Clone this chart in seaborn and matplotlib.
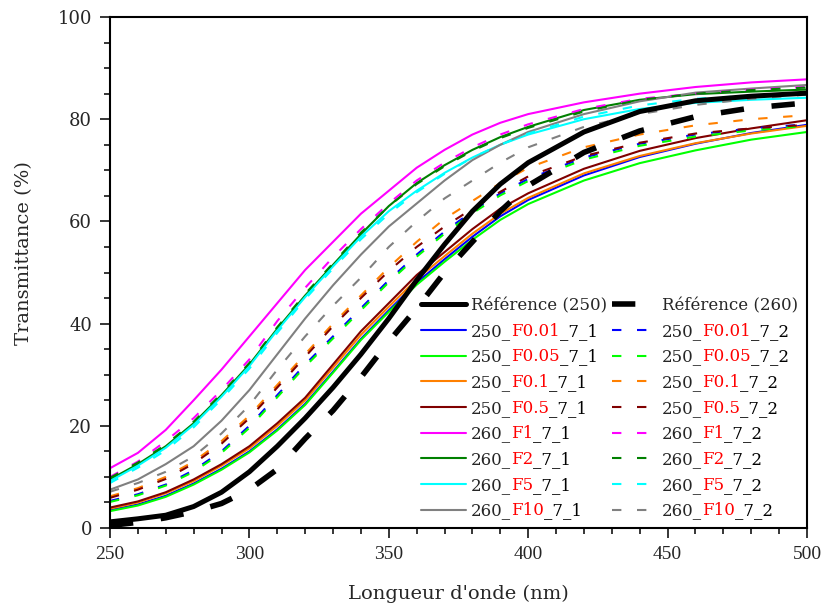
import pandas as pd
import matplotlib
matplotlib.use("Agg")
import matplotlib.pyplot as plt
from matplotlib.ticker import MultipleLocator
import seaborn as sns

# wavelengths (nm)
wl = [250, 260, 270, 280, 290, 300, 310, 320, 330, 340, 350, 360, 370, 380, 390, 400,
      420, 440, 460, 480, 500]

# transmittance (%)
ref_250 = [1.2, 1.8, 2.5, 4.2, 7.0, 11.0, 16.0, 21.5, 27.5, 34.0, 41.0, 48.5, 55.5, 62.0, 67.3, 71.5,
           77.5, 81.5, 83.6, 84.5, 85.1]
ref_260 = [0.5, 1.1, 2.0, 3.2, 4.8, 7.5, 11.5, 17.5, 23.0, 29.5, 36.5, 43.0, 50.0, 56.0, 62.0, 67.0,
           73.5, 77.7, 80.5, 82.2, 83.2]

f001_1 = [3.5, 4.6, 6.3, 8.7, 11.6, 15.0, 19.3, 24.3, 30.6, 37.0, 42.6, 48.0, 52.6, 57.0, 61.0, 64.2,
          69.0, 72.6, 75.2, 77.3, 78.9]
f005_1 = [3.3, 4.4, 6.1, 8.5, 11.4, 14.8, 19.1, 24.1, 30.4, 36.8, 42.3, 47.6, 52.1, 56.4, 60.3, 63.4,
          68.0, 71.4, 73.9, 76.0, 77.5]
f01_1 = [3.8, 5.0, 6.8, 9.2, 12.2, 15.6, 20.0, 25.0, 31.4, 37.8, 43.3, 48.7, 53.2, 57.6, 61.5, 64.6,
         69.4, 72.8, 75.3, 77.2, 78.7]
f05_1 = [4.0, 5.2, 7.0, 9.5, 12.5, 16.0, 20.5, 25.5, 32.0, 38.5, 44.0, 49.5, 54.0, 58.5, 62.5, 65.5,
         70.3, 73.8, 76.3, 78.2, 79.8]
f1_1 = [11.7, 14.7, 19.2, 25.0, 31.0, 37.5, 44.0, 50.5, 56.0, 61.5, 66.0, 70.5, 74.0, 77.0, 79.3, 81.0,
        83.3, 85.0, 86.3, 87.2, 87.8]
f2_1 = [9.5, 12.5, 16.0, 20.5, 26.0, 32.0, 39.0, 45.5, 51.5, 57.5, 63.0, 67.5, 71.0, 74.0, 76.5, 78.5,
        81.8, 83.8, 84.9, 85.4, 85.8]
f5_1 = [9.2, 12.2, 15.7, 20.2, 25.7, 31.7, 38.7, 45.2, 51.2, 57.0, 62.0, 66.0, 69.5, 72.5, 75.0, 77.0,
        80.0, 82.0, 83.2, 83.8, 84.2]
f10_1 = [7.5, 9.5, 12.5, 16.0, 21.0, 27.0, 34.0, 41.0, 47.5, 53.5, 59.0, 63.5, 68.0, 72.0, 75.0, 77.5,
         81.0, 83.5, 85.2, 86.0, 86.7]

f001_2 = [5.3, 6.6, 8.5, 11.3, 15.0, 20.0, 26.0, 32.0, 37.5, 43.0, 48.5, 53.5, 58.0, 62.0, 65.5, 68.3,
          72.5, 75.2, 77.0, 78.2, 79.0]
f005_2 = [5.1, 6.4, 8.3, 11.0, 14.7, 19.6, 25.6, 31.6, 37.1, 42.6, 48.1, 53.1, 57.6, 61.6, 65.1, 67.9,
          72.1, 74.8, 76.6, 77.8, 78.7]
f01_2 = [6.2, 7.8, 10.0, 13.0, 17.0, 22.0, 28.0, 34.0, 40.0, 45.5, 51.0, 56.0, 60.5, 64.0, 67.5, 70.5,
         74.5, 77.0, 78.8, 80.0, 80.8]
f05_2 = [5.9, 7.5, 9.6, 12.6, 16.5, 21.5, 27.5, 33.5, 39.5, 45.0, 50.3, 55.0, 59.0, 62.5, 65.8, 68.8,
         72.8, 75.4, 77.2, 78.2, 78.9]
f1_2 = [10.0, 13.0, 17.0, 21.5, 27.0, 33.0, 40.5, 47.0, 53.0, 58.5, 63.5, 68.0, 71.5, 74.5, 77.0, 79.0,
        82.0, 84.0, 85.0, 85.8, 86.3]
f2_2 = [9.8, 12.8, 16.3, 20.8, 26.3, 32.3, 39.3, 45.8, 51.8, 57.8, 63.0, 67.3, 70.8, 73.8, 76.3, 78.3,
        81.5, 83.8, 85.0, 85.7, 86.2]
f5_2 = [8.8, 11.8, 15.2, 19.7, 25.2, 31.2, 38.2, 44.8, 50.8, 56.5, 61.5, 65.7, 69.3, 72.5, 75.0, 77.2,
        80.5, 82.7, 84.0, 84.6, 85.0]
f10_2 = [7.1, 8.8, 11.0, 14.0, 18.5, 24.0, 31.0, 37.5, 43.5, 49.0, 55.0, 60.0, 64.5, 68.0, 71.5, 74.5,
         78.5, 81.0, 82.8, 84.0, 84.8]

# legend labels split in three parts: black prefix, red middle, black suffix
prefixes = ["250_", "250_", "250_", "250_", "260_", "260_", "260_", "260_"]
mids = ["F0.01", "F0.05", "F0.1", "F0.5", "F1", "F2", "F5", "F10"]
colors = ["#0000FF", "#00FF00", "#FF8000", "#800000", "#FF00FF", "#008000", "#00FFFF", "#808080"]
series_1 = [f001_1, f005_1, f01_1, f05_1, f1_1, f2_1, f5_1, f10_1]
series_2 = [f001_2, f005_2, f01_2, f05_2, f1_2, f2_2, f5_2, f10_2]

sns.set_style("ticks")
plt.rcParams['font.family'] = ['DejaVu Serif']

fig = plt.figure(figsize=(8.22, 6.10), dpi=100)
ax = fig.add_axes([110 / 822, 1 - 528 / 610, 697 / 822, 511 / 610])

dash_col = (0, (4.5, 7.5))
dash_blk = (0, (4.2, 5.0))

h_solid, h_dash = [], []
for vals, c in zip(series_1, colors):
    sns.lineplot(x=wl, y=vals, ax=ax, color=c, lw=1.5, legend=False)
    h_solid.append(ax.lines[-1])
for vals, c in zip(series_2, colors):
    sns.lineplot(x=wl, y=vals, ax=ax, color=c, lw=1.5, linestyle=dash_col, legend=False)
    h_dash.append(ax.lines[-1])
sns.lineplot(x=wl, y=ref_250, ax=ax, color="black", lw=3.6, legend=False)
h_ref250 = ax.lines[-1]
sns.lineplot(x=wl, y=ref_260, ax=ax, color="black", lw=4.0, linestyle=dash_blk, legend=False)
h_ref260 = ax.lines[-1]

ax.set_xlim(250, 500)
ax.set_ylim(0, 100)
ax.xaxis.set_major_locator(MultipleLocator(50))
ax.xaxis.set_minor_locator(MultipleLocator(10))
ax.yaxis.set_major_locator(MultipleLocator(20))
ax.yaxis.set_minor_locator(MultipleLocator(5))
ax.tick_params(which='major', direction='out', length=7, width=1.3, labelsize=13, pad=6,
               top=False, right=False)
ax.tick_params(which='minor', direction='out', length=4, width=1.3, top=False, right=False)
for sp in ax.spines.values():
    sp.set_linewidth(1.5)
    sp.set_color("black")
for lab in ax.get_xticklabels():
    lab.set_family("Liberation Serif")
    lab.set_fontsize(14)

ax.set_xlabel("Longueur d'onde (nm)", fontsize=14)
ax.set_ylabel("Transmittance (%)", fontsize=14)
ax.xaxis.set_label_coords(0.5, -0.112)
ax.yaxis.set_label_coords(-0.11, 0.538)

handles = [h_ref250] + h_solid + [h_ref260] + h_dash
labels = (["Référence (250)"] + prefixes + ["Référence (260)"] + prefixes)
mid_parts = [""] + mids + [""] + mids
suf_parts = [""] + ["_7_1"] * 8 + [""] + ["_7_2"] * 8

fs_leg = 12
leg = ax.legend(handles, labels, ncol=2, loc='upper left', bbox_to_anchor=(0.446, 0.452),
                frameon=False, prop={'family': 'DejaVu Serif', 'size': fs_leg},
                handlelength=2.7, handletextpad=0.3, labelspacing=0.52,
                columnspacing=0.3, borderpad=0, borderaxespad=0)

for txt, mid, suf in zip(leg.get_texts(), mid_parts, suf_parts):
    if not mid:
        continue
    t1 = ax.annotate(mid, xy=(1, 0), xycoords=txt, va='bottom', ha='left', color='#FF0000',
                     fontsize=fs_leg, family='DejaVu Serif', zorder=10)
    ax.annotate(suf, xy=(1, 0), xycoords=t1, va='bottom', ha='left', color='black',
                fontsize=fs_leg, family='DejaVu Serif', zorder=10)

fig.canvas.draw()
fig.savefig("out.png", dpi=100)
